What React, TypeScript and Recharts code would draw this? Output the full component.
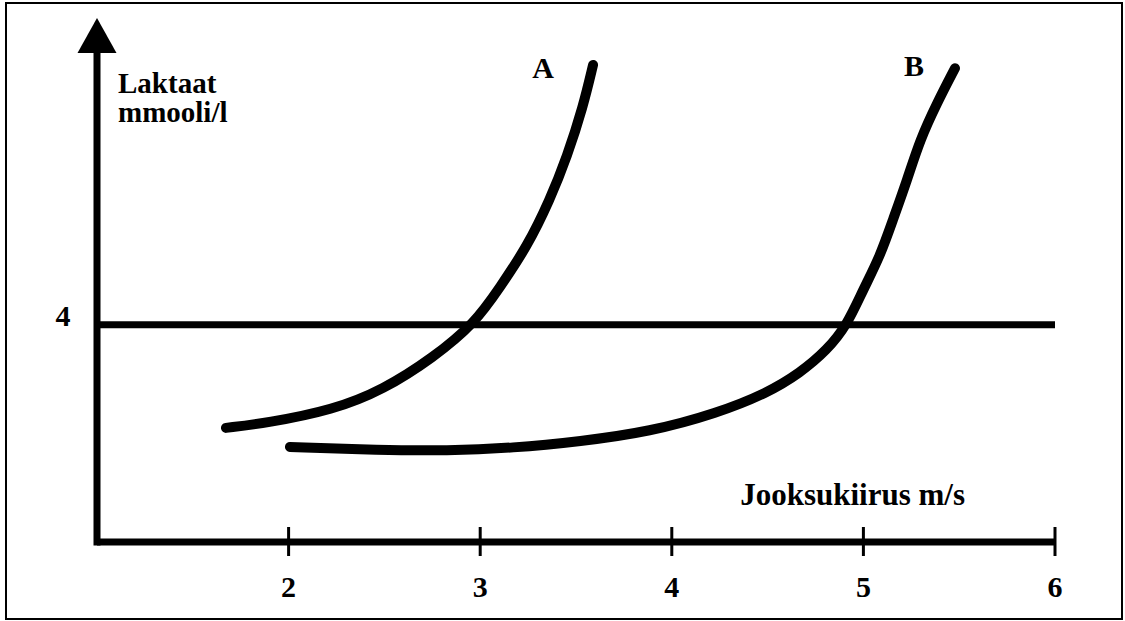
import React from 'react';
import { LineChart, Line, XAxis, YAxis, ReferenceLine, ReferenceDot } from 'recharts';

const FONT = 'Liberation Serif, DejaVu Serif, Times New Roman, serif';

// Curve A (untrained)
const speedA = [1.673, 1.887, 2.232, 2.493, 2.754, 2.973, 3.103, 3.244, 3.364, 3.453, 3.537, 3.589];
const lactateA = [2.1, 2.19, 2.43, 2.8, 3.39, 4.03, 4.69, 5.43, 6.3, 7.09, 8.01, 8.78];

// Curve B (trained)
const speedB = [2.007, 2.477, 2.827, 3.171, 3.521, 3.886, 4.236, 4.497, 4.669, 4.81, 4.914, 4.998, 5.086, 5.154, 5.228, 5.295, 5.384, 5.478];
const lactateB = [1.75, 1.69, 1.68, 1.73, 1.85, 2.03, 2.37, 2.74, 3.11, 3.53, 3.99, 4.64, 5.25, 5.93, 6.66, 7.4, 8.08, 8.72];

const xTicks = [2, 3, 4, 5, 6];
const yTicks = [4];
const threshold = 4;
const xDomain = [1, 6];
const yDomain = [0, 9];

const seriesNames = ['A', 'B'];
const yTitle = ['Laktaat', 'mmooli/l'];
const xTitle = 'Jooksukiirus m/s';

const dataA = speedA.map((x, i) => ({ x, y: lactateA[i] }));
const dataB = speedB.map((x, i) => ({ x, y: lactateB[i] }));

const textStyle = { fontFamily: FONT, fontWeight: 700 as const, fontSize: 29, fill: '#000' };

const XTick = (props: any) => {
  const { x, y, payload } = props;
  return (
    <g>
      <line x1={x} x2={x} y1={y - 15} y2={y + 14} stroke="#000" strokeWidth={3} />
      <text x={x} y={y + 55} textAnchor="middle" style={{ ...textStyle, fontSize: 30 }}>
        {payload.value}
      </text>
    </g>
  );
};

const YTick = (props: any) => {
  const { x, y, payload } = props;
  return (
    <text x={x - 34} y={y + 1} textAnchor="middle" style={{ ...textStyle, fontSize: 30 }}>
      {payload.value}
    </text>
  );
};

const makeEndLabel = (name: string, count: number, dx: number, dy: number) => (props: any) => {
  const { x, y, index } = props;
  if (index !== count - 1) return null;
  return (
    <text x={x + dx} y={y + dy} textAnchor="middle" style={{ ...textStyle, fontSize: 30 }}>
      {name}
    </text>
  );
};

const Arrow = (props: any) => {
  const { cx, cy } = props;
  return <polygon points={`${cx},${cy - 35} ${cx - 19.5},${cy} ${cx + 19.5},${cy}`} fill="#000" />;
};

const YTitle = (props: any) => {
  const vb = props.viewBox || {};
  const x = vb.x + vb.width + 21;
  return (
    <g>
      {yTitle.map((t, i) => (
        <text key={t} x={x} y={vb.y + 40 + i * 29} style={textStyle}>
          {t}
        </text>
      ))}
    </g>
  );
};

const XTitle = (props: any) => {
  const vb = props.viewBox || {};
  return (
    <text x={vb.x + 868} y={vb.y - 37} textAnchor="end" style={{ ...textStyle, fontSize: 31 }}>
      {xTitle}
    </text>
  );
};

export default function App() {
  return (
    <div style={{ position: 'absolute', left: 0, top: 0, width: 1125, height: 621, background: '#fff' }}>
      <div
        style={{
          position: 'absolute',
          left: 5,
          top: 2,
          width: 1114,
          height: 614,
          border: '2px solid #000',
          boxSizing: 'content-box',
        }}
      />
      <div style={{ position: 'absolute', left: 0, top: 0 }}>
        <LineChart width={1125} height={621} margin={{ top: 53, right: 70, bottom: 19, left: 37 }}>
          <XAxis
            type="number"
            dataKey="x"
            domain={xDomain}
            ticks={xTicks}
            allowDataOverflow
            height={60}
            tickSize={0}
            tickMargin={0}
            tickLine={false}
            axisLine={{ stroke: '#000', strokeWidth: 7 }}
            tick={<XTick />}
            label={<XTitle />}
          />
          <YAxis
            type="number"
            domain={yDomain}
            ticks={yTicks}
            allowDataOverflow
            width={60}
            tickSize={0}
            tickMargin={0}
            tickLine={false}
            axisLine={{ stroke: '#000', strokeWidth: 7, strokeLinecap: 'square' }}
            tick={<YTick />}
            label={<YTitle />}
          />
          <ReferenceLine y={threshold} stroke="#000" strokeWidth={7} />
          <ReferenceDot x={xDomain[0]} y={yDomain[1]} ifOverflow="visible" shape={<Arrow />} />
          <Line
            data={dataA}
            dataKey="y"
            type="basis"
            stroke="#000"
            strokeWidth={10}
            strokeLinecap="round"
            dot={false}
            activeDot={false}
            isAnimationActive={false}
            label={makeEndLabel(seriesNames[0], dataA.length, -50, 13)}
          />
          <Line
            data={dataB}
            dataKey="y"
            type="basis"
            stroke="#000"
            strokeWidth={10}
            strokeLinecap="round"
            dot={false}
            activeDot={false}
            isAnimationActive={false}
            label={makeEndLabel(seriesNames[1], dataB.length, -41, 8)}
          />
        </LineChart>
      </div>
    </div>
  );
}
